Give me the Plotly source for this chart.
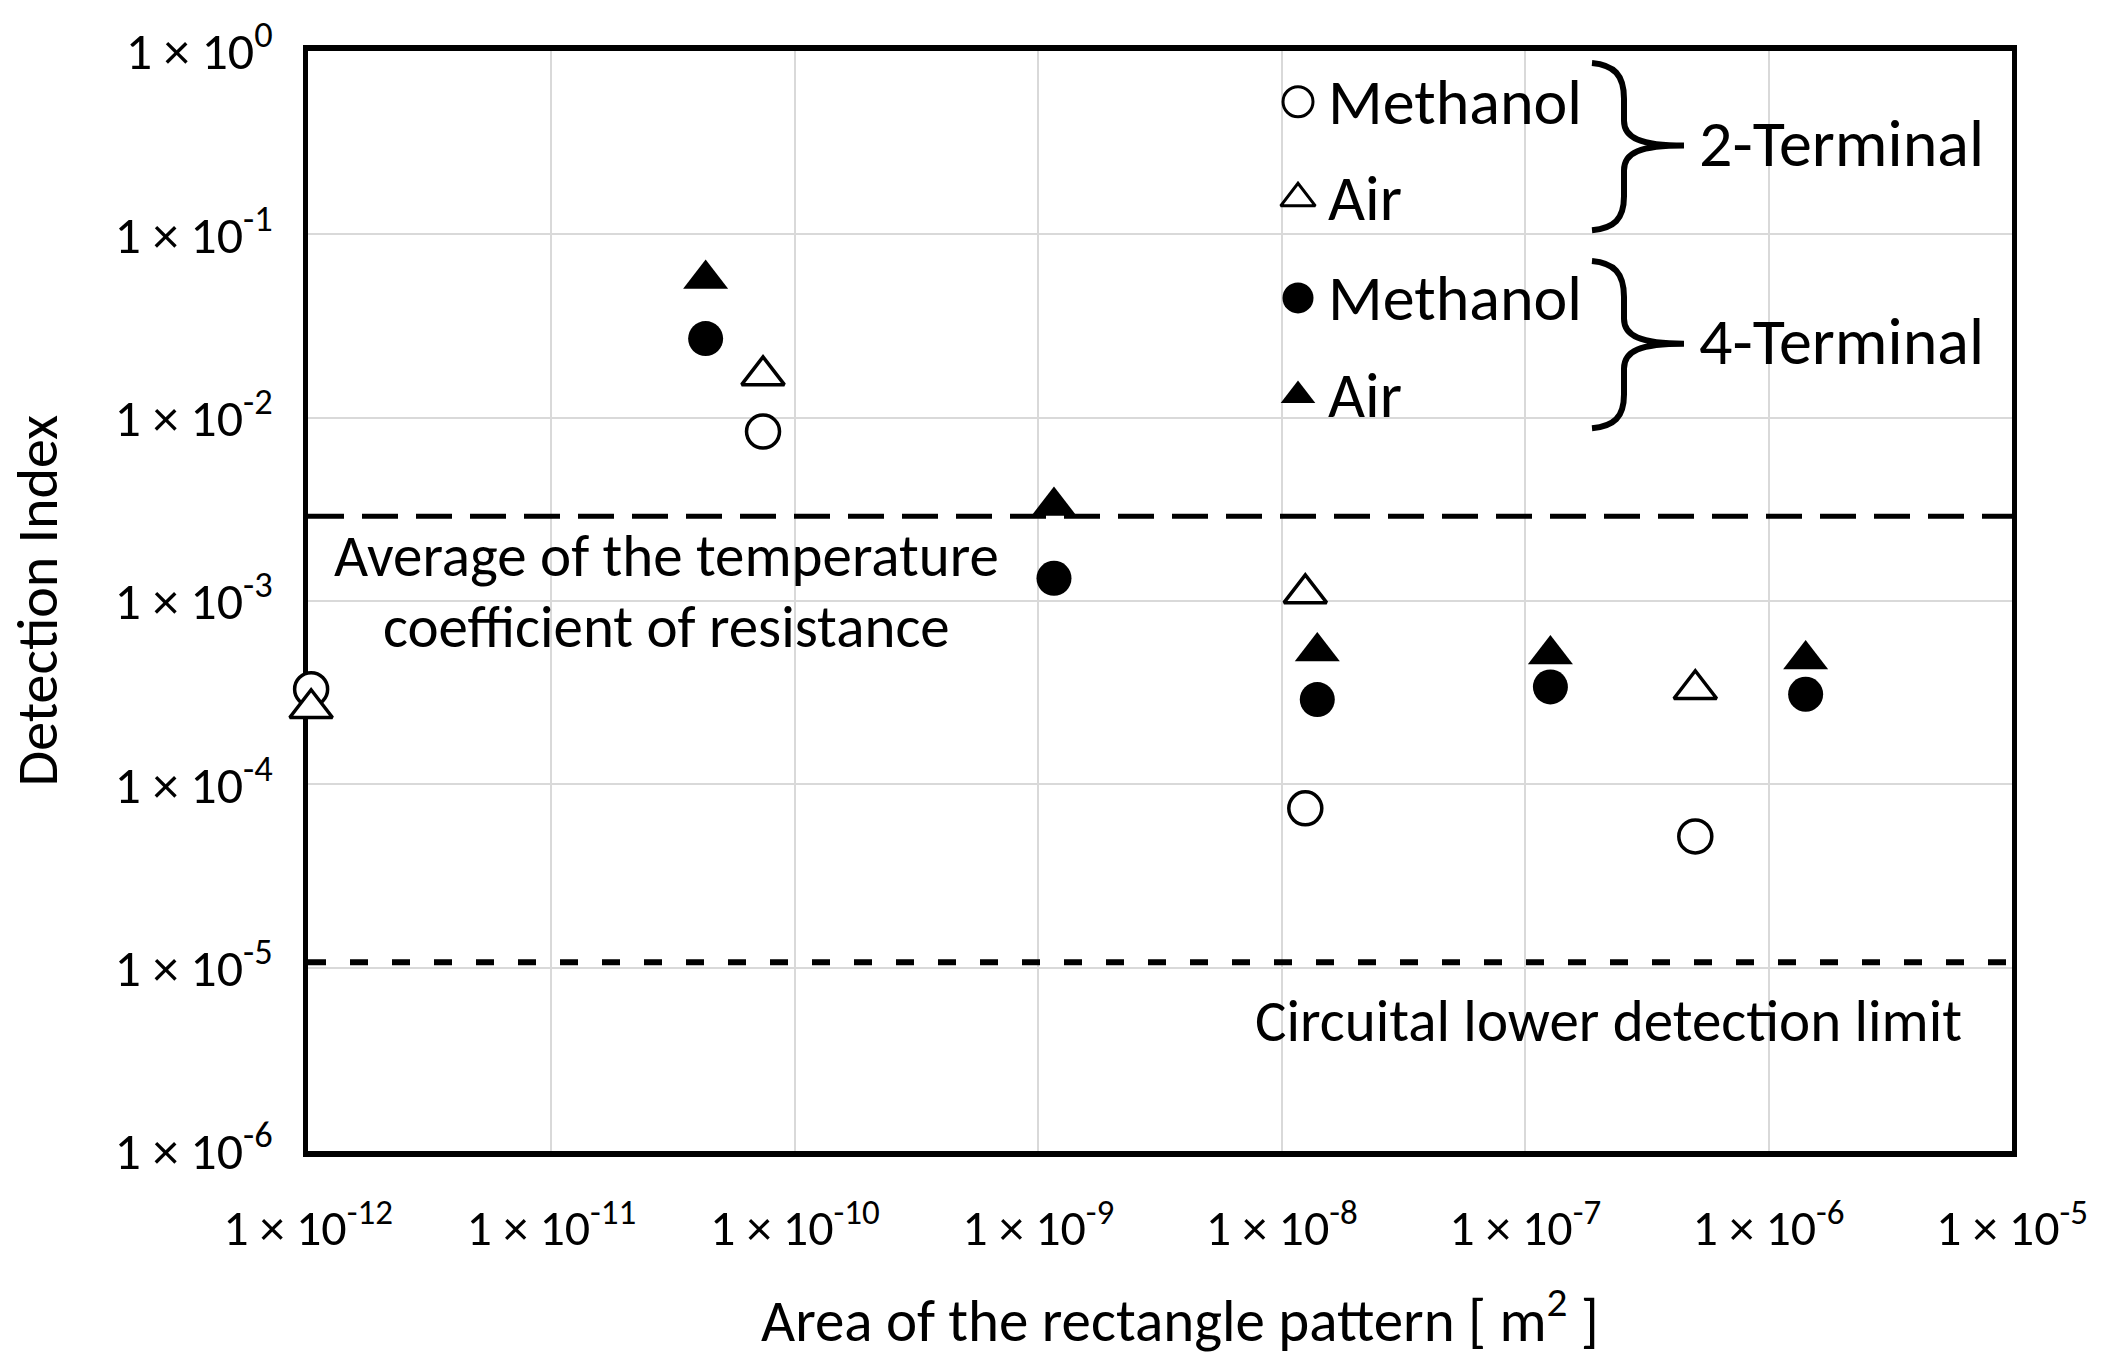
import plotly.graph_objects as go

# ---------------- data ----------------
x_2t_methanol = [1.03e-12, 7.4e-11, 1.25e-8, 5.0e-7]
y_2t_methanol = [3.3e-4, 8.4e-3, 7.4e-5, 5.2e-5]

x_2t_air = [1.03e-12, 7.4e-11, 1.25e-8, 5.0e-7]
y_2t_air = [2.6e-4, 1.7e-2, 1.1e-3, 3.3e-4]

x_4t_methanol = [4.3e-11, 1.16e-9, 1.4e-8, 1.27e-7, 1.42e-6]
y_4t_methanol = [2.7e-2, 1.33e-3, 2.9e-4, 3.4e-4, 3.1e-4]

x_4t_air = [4.3e-11, 1.16e-9, 1.4e-8, 1.27e-7, 1.42e-6]
y_4t_air = [5.7e-2, 3.3e-3, 5.3e-4, 5.1e-4, 4.8e-4]

tcr_average = 2.9e-3
lower_limit = 1.07e-5
x_limits = [1e-12, 1e-5]

x_tick_exps = [-12, -11, -10, -9, -8, -7, -6, -5]
y_tick_exps = [0, -1, -2, -3, -4, -5, -6]

# ---------------- layout geometry (pixels) ----------------
W, H = 2103, 1371
L, R, T, B = 308, 2012, 46, 1151
FONT = "Carlito, Lato, sans-serif"


def px(x):
    return (x - L) / (R - L)


def py(y):
    return (B - y) / (B - T)


def tick_text(e):
    return "1 \u00d7 10<sup>%d</sup>" % e


fig = go.Figure()

open_line = dict(color="black", width=3.5)

fig.add_trace(go.Scatter(x=x_2t_methanol, y=y_2t_methanol, mode="markers",
                         marker=dict(symbol="circle", size=33, color="white", line=open_line),
                         cliponaxis=False, showlegend=False))
fig.add_trace(go.Scatter(x=x_2t_air, y=y_2t_air, mode="markers",
                         marker=dict(symbol="triangle-up", size=37, color="white", line=open_line),
                         cliponaxis=False, showlegend=False))
fig.add_trace(go.Scatter(x=x_4t_methanol, y=y_4t_methanol, mode="markers",
                         marker=dict(symbol="circle", size=35, color="black", line=dict(width=0)),
                         cliponaxis=False, showlegend=False))
fig.add_trace(go.Scatter(x=x_4t_air, y=y_4t_air, mode="markers",
                         marker=dict(symbol="triangle-up", size=39, color="black", line=dict(width=0)),
                         cliponaxis=False, showlegend=False))

# reference lines
fig.add_trace(go.Scatter(x=x_limits, y=[tcr_average, tcr_average], mode="lines",
                         line=dict(color="black", width=5, dash="36px,18px"),
                         showlegend=False, hoverinfo="skip"))
fig.add_trace(go.Scatter(x=x_limits, y=[lower_limit, lower_limit], mode="lines",
                         line=dict(color="black", width=6, dash="18px,24px"),
                         showlegend=False, hoverinfo="skip"))

# legend symbols on an overlay axis in paper-like units
leg_x = px(1298)
leg_rows = [py(97), py(194), py(294), py(392)]
leg_symbols = ["circle", "triangle-up", "circle", "triangle-up"]
leg_fill = ["white", "white", "black", "black"]
leg_size = [30, 30, 31, 30]
for yy, s, c, sz in zip(leg_rows, leg_symbols, leg_fill, leg_size):
    fig.add_trace(go.Scatter(x=[leg_x], y=[yy], xaxis="x2", yaxis="y2", mode="markers",
                             marker=dict(symbol=s, size=sz, color=c,
                                         line=dict(color="black", width=3 if c == "white" else 0)),
                             cliponaxis=False, showlegend=False, hoverinfo="skip"))

leg_labels = ["Methanol", "Air", "Methanol", "Air"]
annotations = []
for yy, lab in zip(leg_rows, leg_labels):
    annotations.append(dict(x=px(1326), y=yy, xref="paper", yref="paper", text=lab,
                            showarrow=False, xanchor="left", yanchor="middle",
                            font=dict(family=FONT, size=64, color="black")))

annotations += [
    dict(x=px(1697), y=py(139), xref="paper", yref="paper", text="2-Terminal", showarrow=False,
         xanchor="left", yanchor="middle", font=dict(family=FONT, size=66, color="black")),
    dict(x=px(1697), y=py(338), xref="paper", yref="paper", text="4-Terminal", showarrow=False,
         xanchor="left", yanchor="middle", font=dict(family=FONT, size=66, color="black")),
    dict(x=px(666), y=py(553), xref="paper", yref="paper", text="Average of the temperature",
         showarrow=False, xanchor="center", yanchor="middle",
         font=dict(family=FONT, size=59, color="black")),
    dict(x=px(666), y=py(625), xref="paper", yref="paper", text="coefficient of resistance",
         showarrow=False, xanchor="center", yanchor="middle",
         font=dict(family=FONT, size=59, color="black")),
    dict(x=px(1608), y=py(1020), xref="paper", yref="paper", text="Circuital lower detection limit",
         showarrow=False, xanchor="center", yanchor="middle",
         font=dict(family=FONT, size=59, color="black")),
    dict(x=px(38), y=py(598), xref="paper", yref="paper", text="Detection Index",
         showarrow=False, textangle=-90, xanchor="center", yanchor="middle",
         font=dict(family=FONT, size=58, color="black")),
    dict(x=px(1180), y=py(1318), xref="paper", yref="paper",
         text="Area of the rectangle pattern [ m<sup>2</sup> ]",
         showarrow=False, xanchor="center", yanchor="middle",
         font=dict(family=FONT, size=59, color="black")),
]


def brace_path(dy):
    pts = [
        ("M", [(1592, 58)]),
        ("C", [(1614, 60), (1624, 70), (1624, 94)]),
        ("L", [(1624, 116)]),
        ("C", [(1624, 133), (1640, 141), (1684, 141)]),
        ("C", [(1640, 141), (1624, 148), (1624, 166)]),
        ("L", [(1624, 192)]),
        ("C", [(1624, 215), (1614, 224), (1592, 226)]),
    ]
    out = ""
    for cmd, ps in pts:
        out += cmd + " " + " ".join("%.5f,%.5f" % (px(a), py(b + dy)) for a, b in ps) + " "
    return out.strip()


shapes = [
    dict(type="path", xref="paper", yref="paper", path=brace_path(0),
         line=dict(color="black", width=6)),
    dict(type="path", xref="paper", yref="paper", path=brace_path(199),
         line=dict(color="black", width=6)),
]

fig.update_layout(
    width=W, height=H,
    margin=dict(l=L, r=W - R, t=T, b=H - B),
    paper_bgcolor="white", plot_bgcolor="white",
    font=dict(family=FONT, color="black"),
    showlegend=False,
    annotations=annotations,
    shapes=shapes,
    xaxis=dict(type="log", range=[-12, -5],
               tickvals=[10.0 ** e for e in x_tick_exps],
               ticktext=[tick_text(e) for e in x_tick_exps],
               tickfont=dict(family=FONT, size=50, color="black"),
               ticks="", ticklabelstandoff=28,
               showgrid=True, gridcolor="#d9d9d9", gridwidth=2,
               showline=True, linecolor="black", linewidth=6, mirror=True,
               zeroline=False, layer="below traces"),
    yaxis=dict(type="log", range=[-6, 0],
               tickvals=[10.0 ** e for e in y_tick_exps],
               ticktext=[tick_text(e) for e in y_tick_exps],
               tickfont=dict(family=FONT, size=52, color="black"),
               ticks="", ticklabelstandoff=20,
               showgrid=True, gridcolor="#d9d9d9", gridwidth=2,
               showline=True, linecolor="black", linewidth=5, mirror=True,
               zeroline=False, layer="below traces"),
    xaxis2=dict(overlaying="x", range=[0, 1], visible=False, anchor="y2"),
    yaxis2=dict(overlaying="y", range=[0, 1], visible=False, anchor="x2"),
)

fig.write_html("out.html", config={"displayModeBar": False},
               post_script="document.body.style.margin='0';document.body.style.padding='0';")
